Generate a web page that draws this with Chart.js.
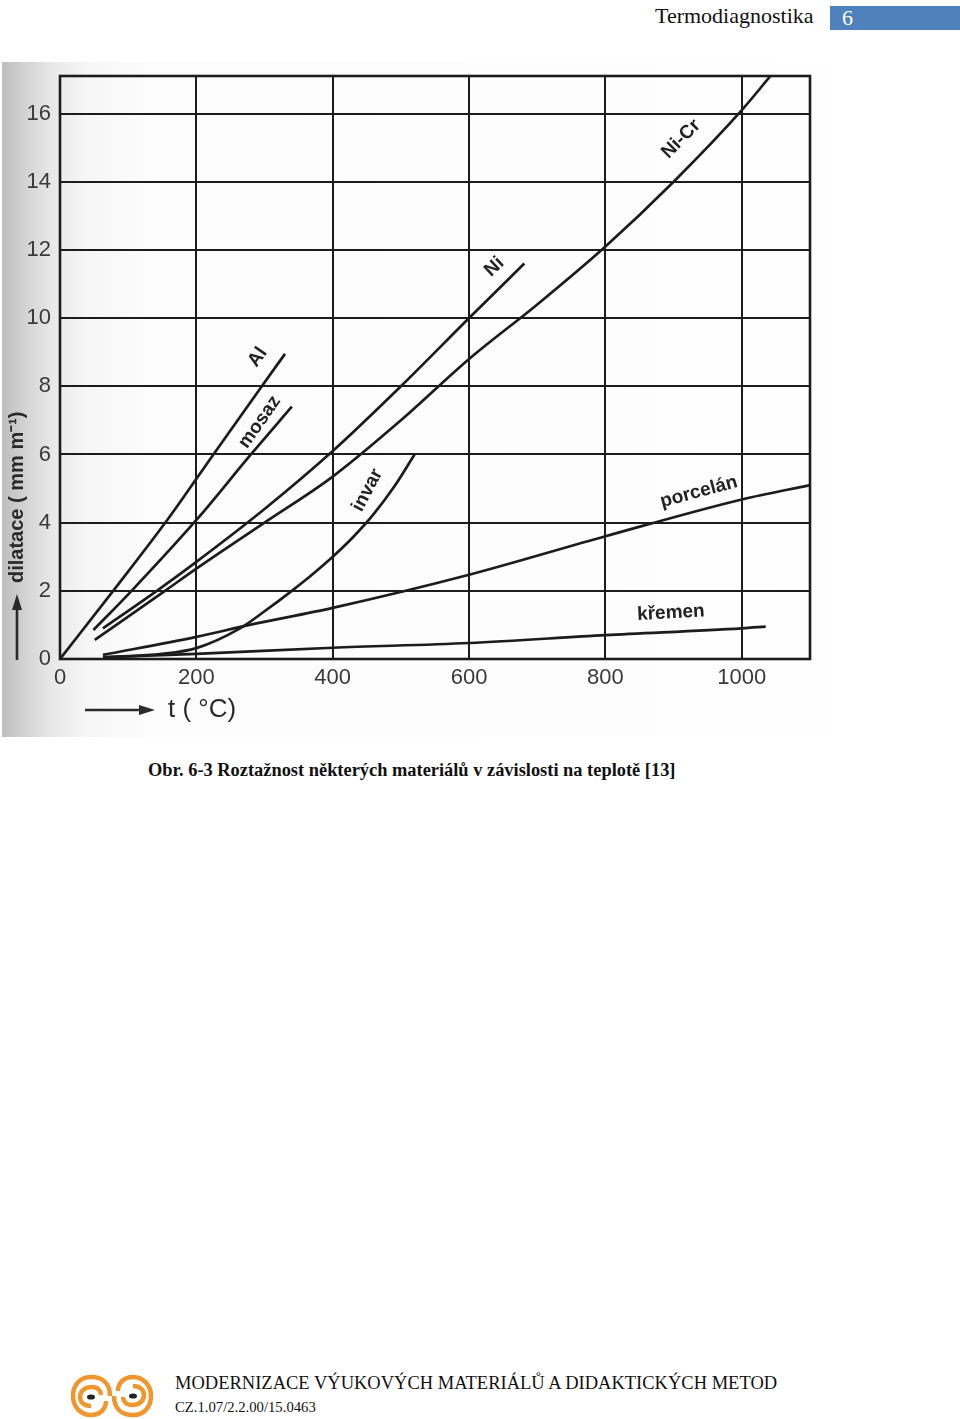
<!DOCTYPE html>
<html>
<head>
<meta charset="utf-8">
<script src="https://cdn.jsdelivr.net/npm/chart.js@4/dist/chart.umd.min.js"></script>
<style>
  body { margin: 0; background: #fff; width: 960px; height: 1419px; position: relative; overflow: hidden;
         font-family: "Liberation Serif", "Times New Roman", serif; color: #111; }
  #head { position: absolute; left: 655px; top: 3px; font-size: 22px; }
  #num { position: absolute; left: 830px; top: 6px; width: 130px; height: 24px; background: #4f81bd; color: #fff;
         font-size: 22px; line-height: 24px; padding-left: 12px; box-sizing: border-box; }
  #scan { position: absolute; left: 2px; top: 62px; width: 826px; height: 675px;
          background: linear-gradient(to right, #bdbdbd 0px, #d2d2d2 22px, #e8e8e8 50px, #f6f6f6 85px, #fcfcfc 150px, #fefefe 100%); }
  #cap { position: absolute; left: 148px; top: 760px; font-weight: bold; font-size: 18.4px; white-space: nowrap; }
  #logo { position: absolute; left: 70px; top: 1373px; }
  #foot1 { position: absolute; left: 175px; top: 1373px; font-size: 18.5px; white-space: nowrap; }
  #foot2 { position: absolute; left: 175px; top: 1399px; font-size: 14.7px; white-space: nowrap; }
</style>
</head>
<body>
<div id="head">Termodiagnostika</div>
<div id="num">6</div>
<div id="scan"><canvas id="chart" width="826" height="675"></canvas></div>
<div id="cap">Obr. 6-3 Roztažnost některých materiálů v závislosti na teplotě [13]</div>
<svg id="logo" width="86" height="46" viewBox="0 0 86 46">
  <g fill="none" stroke="#f0962e" stroke-width="4.5">
    <path d="M40 23 C40 10 32 4 21 4 C9 4 3 13 3 23 C3 34 11 42 21 42 C30 42 36 36 36 28"/>
    <path d="M21 33 C14 33 10 29 10 24 C10 18 15 14 22 14 C28 14 31 18 31 22"/>
    <path d="M44 23 C44 36 52 42 63 42 C75 42 81 33 81 23 C81 12 73 4 63 4 C54 4 48 10 48 18"/>
    <path d="M63 13 C70 13 74 17 74 22 C74 28 69 32 62 32 C56 32 53 28 53 24"/>
  </g>
  <ellipse cx="21" cy="24" rx="4" ry="2.6" fill="#222"/>
  <ellipse cx="63" cy="23" rx="4" ry="2.6" fill="#222"/>
</svg>
<div id="foot1">MODERNIZACE VÝUKOVÝCH MATERIÁLŮ A DIDAKTICKÝCH METOD</div>
<div id="foot2">CZ.1.07/2.2.00/15.0463</div>

<script>
// osy
const xTicks = [0, 200, 400, 600, 800, 1000];
const yTicks = [0, 2, 4, 6, 8, 10, 12, 14, 16];
const xMax = 1100;
const yMax = 17.1;

// teplota (°C) a dilatace (mm/m) pro jednotlive materialy
const alT = [0, 80, 160, 225, 296, 330];
const alD = [0, 2.05, 4.15, 6.0, 8.0, 8.95];
const mosazT = [49, 105, 201, 280, 340];
const mosazD = [0.85, 2.0, 4.1, 6.0, 7.4];
const niT = [63, 142, 200, 300, 400, 500, 600, 681];
const niD = [0.9, 2.0, 2.85, 4.4, 6.1, 8.0, 10.0, 11.6];
const niCrT = [51, 154, 200, 300, 400, 500, 600, 700, 800, 900, 1000, 1042];
const niCrD = [0.56, 2.0, 2.65, 4.0, 5.35, 7.0, 8.8, 10.4, 12.1, 14.0, 16.1, 17.1];
const invarT = [65, 150, 200, 264, 300, 340, 370, 400, 430, 460, 490, 520];
const invarD = [0.05, 0.15, 0.32, 0.9, 1.4, 2.0, 2.48, 3.0, 3.58, 4.25, 5.05, 6.0];
const porcelanT = [63, 200, 278, 400, 600, 800, 1000, 1100];
const porcelanD = [0.12, 0.65, 1.0, 1.5, 2.47, 3.6, 4.68, 5.1];
const kremenT = [63, 200, 400, 600, 800, 1000, 1035];
const kremenD = [0.05, 0.15, 0.33, 0.47, 0.7, 0.9, 0.95];

const ink = '#1c1c1c';
const tickFont = '"Liberation Sans", Arial, sans-serif';

function pts(t, d) {
    return t.map((v, i) => ({ x: v, y: d[i] }));
}

function serie(name, t, d) {
    return {
        label: name,
        data: pts(t, d),
        borderColor: ink,
        borderWidth: 2.7,
        pointRadius: 0,
        fill: false,
        cubicInterpolationMode: 'monotone'
    };
}

// popisky krivek (poloha v jednotkach os, uhel ve stupnich)
const curveLabels = [
    { text: 'Al', x: 290, y: 8.85, angle: -55 },
    { text: 'mosaz', x: 293, y: 6.95, angle: -55 },
    { text: 'Ni', x: 637, y: 11.5, angle: -43 },
    { text: 'Ni-Cr', x: 911, y: 15.25, angle: -45 },
    { text: 'invar', x: 451, y: 4.95, angle: -62 },
    { text: 'porcelán', x: 937, y: 4.9, angle: -15 },
    { text: 'křemen', x: 896, y: 1.35, angle: -3 }
];

const decor = {
    id: 'decor',
    afterDatasetsDraw(chart) {
        const ctx = chart.ctx;
        const a = chart.chartArea;
        const xs = chart.scales.x, ys = chart.scales.y;
        ctx.save();
        // ramecek grafu
        ctx.strokeStyle = ink;
        ctx.lineWidth = 2.6;
        ctx.strokeRect(a.left, a.top, a.right - a.left, a.bottom - a.top);

        // popisky krivek
        ctx.fillStyle = '#222';
        ctx.font = 'bold 19px "Liberation Sans", Arial, sans-serif';
        ctx.textAlign = 'center';
        ctx.textBaseline = 'middle';
        curveLabels.forEach(l => {
            ctx.save();
            ctx.translate(xs.getPixelForValue(l.x), ys.getPixelForValue(l.y));
            ctx.rotate(l.angle * Math.PI / 180);
            ctx.fillText(l.text, 0, 0);
            ctx.restore();
        });

        // popis osy y
        ctx.fillStyle = '#2a2a2a';
        ctx.strokeStyle = '#2a2a2a';
        ctx.save();
        ctx.translate(15, 521);
        ctx.rotate(-Math.PI / 2);
        ctx.font = 'bold 20px "Liberation Sans", Arial, sans-serif';
        ctx.textAlign = 'left';
        ctx.fillText('dilatace ( mm m\u207B\u00B9)', 0, 0);
        ctx.restore();
        arrow(ctx, 15, 598, 15, 532);

        // popis osy x
        arrow(ctx, 83, 648, 153, 648);
        ctx.font = '26px "Liberation Sans", Arial, sans-serif';
        ctx.textAlign = 'left';
        ctx.fillText('t ( °C)', 166, 648);
        ctx.restore();
    }
};

function arrow(ctx, x1, y1, x2, y2) {
    const ang = Math.atan2(y2 - y1, x2 - x1);
    ctx.lineWidth = 2.6;
    ctx.beginPath();
    ctx.moveTo(x1, y1);
    ctx.lineTo(x2 - 10 * Math.cos(ang), y2 - 10 * Math.sin(ang));
    ctx.stroke();
    ctx.beginPath();
    ctx.moveTo(x2, y2);
    ctx.lineTo(x2 - 16 * Math.cos(ang) + 5 * Math.sin(ang), y2 - 16 * Math.sin(ang) - 5 * Math.cos(ang));
    ctx.lineTo(x2 - 16 * Math.cos(ang) - 5 * Math.sin(ang), y2 - 16 * Math.sin(ang) + 5 * Math.cos(ang));
    ctx.closePath();
    ctx.fill();
}

const ctx = document.getElementById('chart').getContext('2d');
const chart = new Chart(ctx, {
    type: 'line',
    data: {
        datasets: [
            serie('Al', alT, alD),
            serie('mosaz', mosazT, mosazD),
            serie('Ni', niT, niD),
            serie('Ni-Cr', niCrT, niCrD),
            serie('invar', invarT, invarD),
            serie('porcelán', porcelanT, porcelanD),
            serie('křemen', kremenT, kremenD)
        ]
    },
    options: {
        responsive: false,
        animation: false,
        events: [],
        layout: { padding: { left: 0, right: 18, top: 14, bottom: 0 } },
        plugins: { legend: { display: false }, tooltip: { enabled: false } },
        scales: {
            x: {
                type: 'linear',
                min: 0,
                max: xMax,
                afterBuildTicks: s => { s.ticks = xTicks.map(v => ({ value: v })); },
                afterFit: s => { s.height = 78; s.paddingLeft = 0; s.paddingRight = 0; },
                grid: { color: ink, lineWidth: 2, drawTicks: false },
                border: { display: false },
                ticks: { color: '#3a3a3a', padding: 6, maxRotation: 0, callback: v => String(v),
                         font: { family: tickFont, size: 22 } }
            },
            y: {
                type: 'linear',
                min: 0,
                max: yMax,
                afterBuildTicks: s => { s.ticks = yTicks.map(v => ({ value: v })); },
                afterFit: s => { s.width = 58; s.paddingTop = 0; s.paddingBottom = 0; },
                grid: { color: ink, lineWidth: 2, drawTicks: false },
                border: { display: false },
                ticks: { color: '#3a3a3a', padding: 9, callback: v => String(v),
                         font: { family: tickFont, size: 22 } }
            }
        }
    },
    plugins: [decor]
});
</script>
</body>
</html>
